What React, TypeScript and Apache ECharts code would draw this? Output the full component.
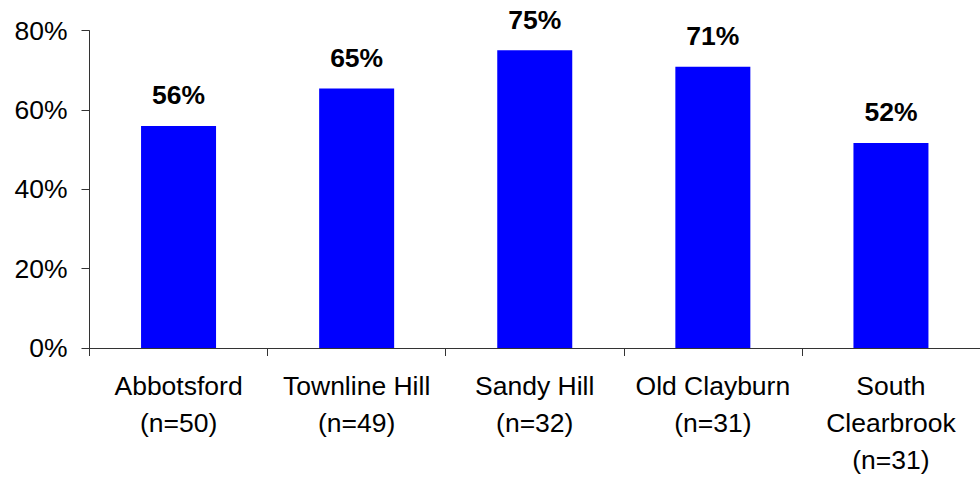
import React, { useEffect, useRef } from "react";
import * as echarts from "echarts";

const categories = [
  "Abbotsford\n(n=50)",
  "Townline Hill\n(n=49)",
  "Sandy Hill\n(n=32)",
  "Old Clayburn\n(n=31)",
  "South\nClearbrook\n(n=31)",
];
const values = [56.0, 65.4, 75.1, 70.9, 51.7];
const yTicks = [0, 20, 40, 60, 80];

export default function App() {
  const ref = useRef<HTMLDivElement>(null);
  useEffect(() => {
    if (!ref.current) return;
    const chart = echarts.init(ref.current, undefined, { renderer: "svg" });
    const font = "Liberation Sans, Arial, sans-serif";
    chart.setOption({
      animation: false,
      backgroundColor: "#ffffff",
      grid: { left: 89.5, right: -6.5, top: 30.7, bottom: 129.7, containLabel: false },
      xAxis: {
        type: "category",
        data: categories,
        axisLine: { show: true, lineStyle: { color: "#333", width: 1 } },
        axisTick: { show: true, alignWithLabel: false, length: 8, lineStyle: { color: "#333" } },
        axisLabel: {
          color: "#000",
          fontFamily: font,
          fontSize: 26.5,
          lineHeight: 37,
          margin: 19,
          interval: 0,
        },
      },
      yAxis: {
        type: "value",
        min: yTicks[0],
        max: yTicks[yTicks.length - 1],
        interval: 20,
        splitLine: { show: false },
        axisLine: { show: true, lineStyle: { color: "#333", width: 1 } },
        axisTick: { show: true, length: 8, lineStyle: { color: "#333" } },
        axisLabel: {
          color: "#000",
          fontFamily: font,
          fontSize: 26.5,
          margin: 22,
          formatter: (v: number) => v + "%",
        },
      },
      series: [
        {
          type: "bar",
          data: values,
          barWidth: 75,
          itemStyle: { color: "#0000ff" },
          label: {
            show: true,
            position: "top",
            distance: 17,
            color: "#000",
            fontFamily: font,
            fontWeight: "bold",
            fontSize: 26.5,
            formatter: (p: any) => Math.round(p.value) + "%",
          },
        },
      ],
    });
    return () => chart.dispose();
  }, []);
  return (
    <div
      ref={ref}
      style={{ position: "absolute", left: 0, top: 0, width: 980, height: 478 }}
    />
  );
}
